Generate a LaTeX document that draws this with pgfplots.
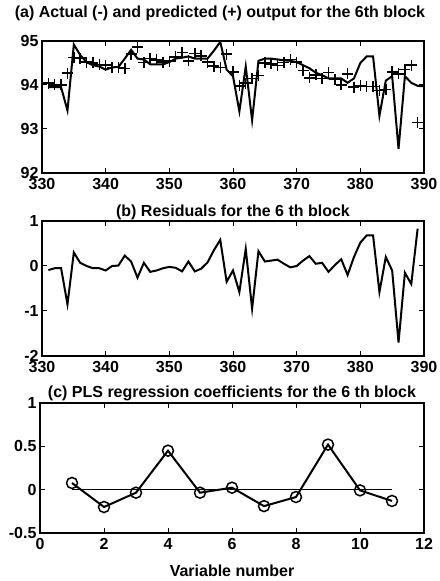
\documentclass[border=0pt]{standalone}
\usepackage{fontspec}
\setmainfont{Liberation Sans}
\usepackage{pgfplots}
\pgfplotsset{compat=1.18}

\newcommand{\figfont}{\fontsize{16bp}{19bp}\selectfont\bfseries}

\pgfplotsset{
  panel/.style={
    scale only axis,
    anchor=south west,
    tick align=inside,
    tick pos=both,
    major tick length=5bp,
    axis line style={line width=1.2bp},
    every tick/.style={line width=1bp, black},
    tick label style={font=\figfont},
    xticklabel style={yshift=-1.5bp},
    /pgf/number format/assume math mode=true,
    title style={font=\figfont, anchor=center, at={(0.5,1)}},
    label style={font=\figfont},
  },
}

\begin{document}
\begin{tikzpicture}
\useasboundingbox (0,0) rectangle (440bp,581bp);

% (a) actual and predicted output
\begin{axis}[panel,
    at={(42bp,408bp)}, width=382bp, height=132bp,
    xmin=330, xmax=390, ymin=92, ymax=95,
    xtick={330,340,...,390}, ytick={92,93,94,95},
    title={(a) Actual (-) and predicted (+) output for the 6th block},
    title style={yshift=22bp, xshift=-13bp},
]
\addplot[black, line width=2bp] coordinates {
(331,93.95) (332,93.95) (333,93.95) (334,93.42) (335,94.92) (336,94.68)
(337,94.52) (338,94.45) (339,94.42) (340,94.35) (341,94.40) (342,94.41)
(343,94.60) (344,94.80) (345,94.60) (346,94.58) (347,94.47) (348,94.47)
(349,94.47) (350,94.52) (351,94.60) (352,94.62) (353,94.65) (354,94.60)
(355,94.60) (356,94.60) (357,94.78) (358,94.98) (359,94.35) (360,94.20)
(361,93.40) (362,94.42) (363,93.20) (364,94.55) (365,94.60) (366,94.60)
(367,94.58) (368,94.56) (369,94.55) (370,94.52) (371,94.45) (372,94.38)
(373,94.28) (374,94.22) (375,94.15) (376,94.15) (377,94.15) (378,94.05)
(379,94.15) (380,94.50) (381,94.65) (382,94.65) (383,93.30) (384,94.10)
(385,94.20) (386,92.55) (387,94.20) (388,94.05) (389,93.98) (390,93.97)
};
\addplot[black, only marks, mark=+, mark size=5.5bp, mark options={line width=1.5bp}] coordinates {
(331,94.04) (332,94.00) (333,94.00) (334,94.27) (335,94.62) (336,94.61)
(337,94.52) (338,94.50) (339,94.47) (340,94.45) (341,94.40) (342,94.40)
(343,94.37) (344,94.70) (345,94.86) (346,94.51) (347,94.60) (348,94.57)
(349,94.52) (350,94.54) (351,94.64) (352,94.74) (353,94.55) (354,94.72)
(355,94.66) (356,94.52) (357,94.43) (358,94.40) (359,94.70) (360,94.30)
(361,93.98) (362,94.04) (363,94.15) (364,94.22) (365,94.50) (366,94.48)
(367,94.44) (368,94.51) (369,94.58) (370,94.52) (371,94.33) (372,94.16)
(373,94.23) (374,94.15) (375,94.28) (376,94.13) (377,94.00) (378,94.25)
(379,93.95) (380,93.98) (381,93.97) (382,93.97) (383,93.88) (384,93.90)
(385,94.30) (386,94.25) (387,94.35) (388,94.45) (389,93.15)
};
\end{axis}

% (b) residuals
\begin{axis}[panel,
    at={(42bp,225bp)}, width=382bp, height=135bp,
    xmin=330, xmax=390, ymin=-2, ymax=1,
    xtick={330,340,...,390}, ytick={-2,-1,0,1},
    title={(b) Residuals for the 6 th block},
    title style={yshift=3bp},
]
\addplot[black, line width=2bp] coordinates {
(331,-0.09) (332,-0.05) (333,-0.05) (334,-0.85) (335,0.30) (336,0.07)
(337,0.00) (338,-0.05) (339,-0.05) (340,-0.10) (341,0.00) (342,0.01)
(343,0.23) (344,0.10) (345,-0.26) (346,0.07) (347,-0.13) (348,-0.10)
(349,-0.05) (350,-0.02) (351,-0.04) (352,-0.12) (353,0.10) (354,-0.12)
(355,-0.06) (356,0.08) (357,0.35) (358,0.58) (359,-0.35) (360,-0.10)
(361,-0.58) (362,0.38) (363,-0.95) (364,0.33) (365,0.10) (366,0.12)
(367,0.14) (368,0.05) (369,-0.03) (370,0.00) (371,0.12) (372,0.22)
(373,0.05) (374,0.07) (375,-0.13) (376,0.02) (377,0.15) (378,-0.20)
(379,0.20) (380,0.52) (381,0.68) (382,0.68) (383,-0.58) (384,0.20)
(385,-0.10) (386,-1.70) (387,-0.15) (388,-0.40) (389,0.83)
};
\end{axis}

% (c) PLS regression coefficients
\begin{axis}[panel,
    at={(40bp,48bp)}, width=384bp, height=130bp,
    xmin=0, xmax=12, ymin=-0.5, ymax=1,
    xtick={0,2,...,12}, ytick={-0.5,0,0.5,1},
    title={(c) PLS regression coefficients for the 6 th block},
    title style={yshift=4bp},
    xlabel={Variable number},
    xlabel style={yshift=-9bp},
]
\addplot[black, line width=1.5bp] coordinates {(1,0) (11,0)};
\addplot[black, line width=2bp, mark=o, mark size=5.5bp,
    mark options={line width=1.5bp, fill=none}] coordinates {
(1,0.077) (2,-0.20) (3,-0.035) (4,0.45) (5,-0.035) (6,0.023)
(7,-0.19) (8,-0.085) (9,0.52) (10,-0.008) (11,-0.13)
};
\end{axis}
\end{tikzpicture}
\end{document}
